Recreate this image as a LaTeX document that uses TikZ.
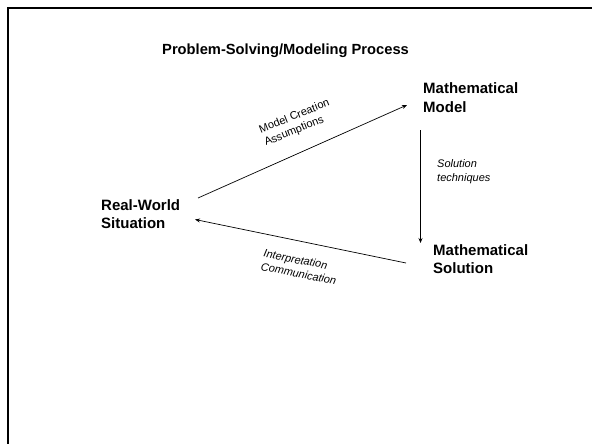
\documentclass[tikz,border=0pt]{standalone}
\usepackage{fontspec}
\setmainfont{Liberation Sans}
\usetikzlibrary{arrows.meta}
\begin{document}
\begin{tikzpicture}[x=1pt,y=-1pt,
  bigtext/.style={font=\fontsize{15}{18}\selectfont\bfseries, align=left, inner sep=0pt, anchor=base west},
  smalltext/.style={font=\fontsize{11}{13.5}\selectfont, align=left, inner sep=0pt},
  conn/.style={line width=0.7pt, -{Stealth[length=5pt,width=4pt]}},
  frameline/.style={line width=2.5pt}]
\useasboundingbox (0,0) rectangle (592,444);
\clip (0,0) rectangle (592,444);
\fill[white] (0,0) rectangle (592,444);
% frame (only top and left edges visible)
\draw[frameline] (600,8) -- (8,8) -- (8,452);
% title
\node[bigtext, font=\fontsize{14.7}{18}\selectfont\bfseries] (title) at (162,55) {Problem-Solving/Modeling Process};
% main labels (base anchor = last line's baseline)
\node[bigtext] (model) at (423,112) {Mathematical\\Model};
\node[bigtext] (solution) at (433,273) {Mathematical\\Solution};
\node[bigtext] (real) at (101,228) {Real-World\\Situation};
% connector end points
\coordinate (a1s) at (198,198);
\coordinate (a1e) at (407,105);
\coordinate (a2s) at (420.5,130);
\coordinate (a2e) at (420.5,243);
\coordinate (a3s) at (406,263);
\coordinate (a3e) at (195,219.5);
\draw[conn] (a1s) -- (a1e);
\draw[conn] (a2s) -- (a2e);
\draw[conn] (a3s) -- (a3e);
% connector labels
\node[smalltext, rotate=22] (lab1) at (297,123) {Model Creation\\Assumptions};
\node[smalltext, font=\fontsize{11}{13.5}\selectfont\itshape, anchor=base west] (lab2) at (437,181) {Solution\\techniques};
\node[smalltext, font=\fontsize{11}{13.5}\selectfont\itshape, rotate=-11] (lab3) at (300,267) {Interpretation\\Communication};
\end{tikzpicture}
\end{document}
